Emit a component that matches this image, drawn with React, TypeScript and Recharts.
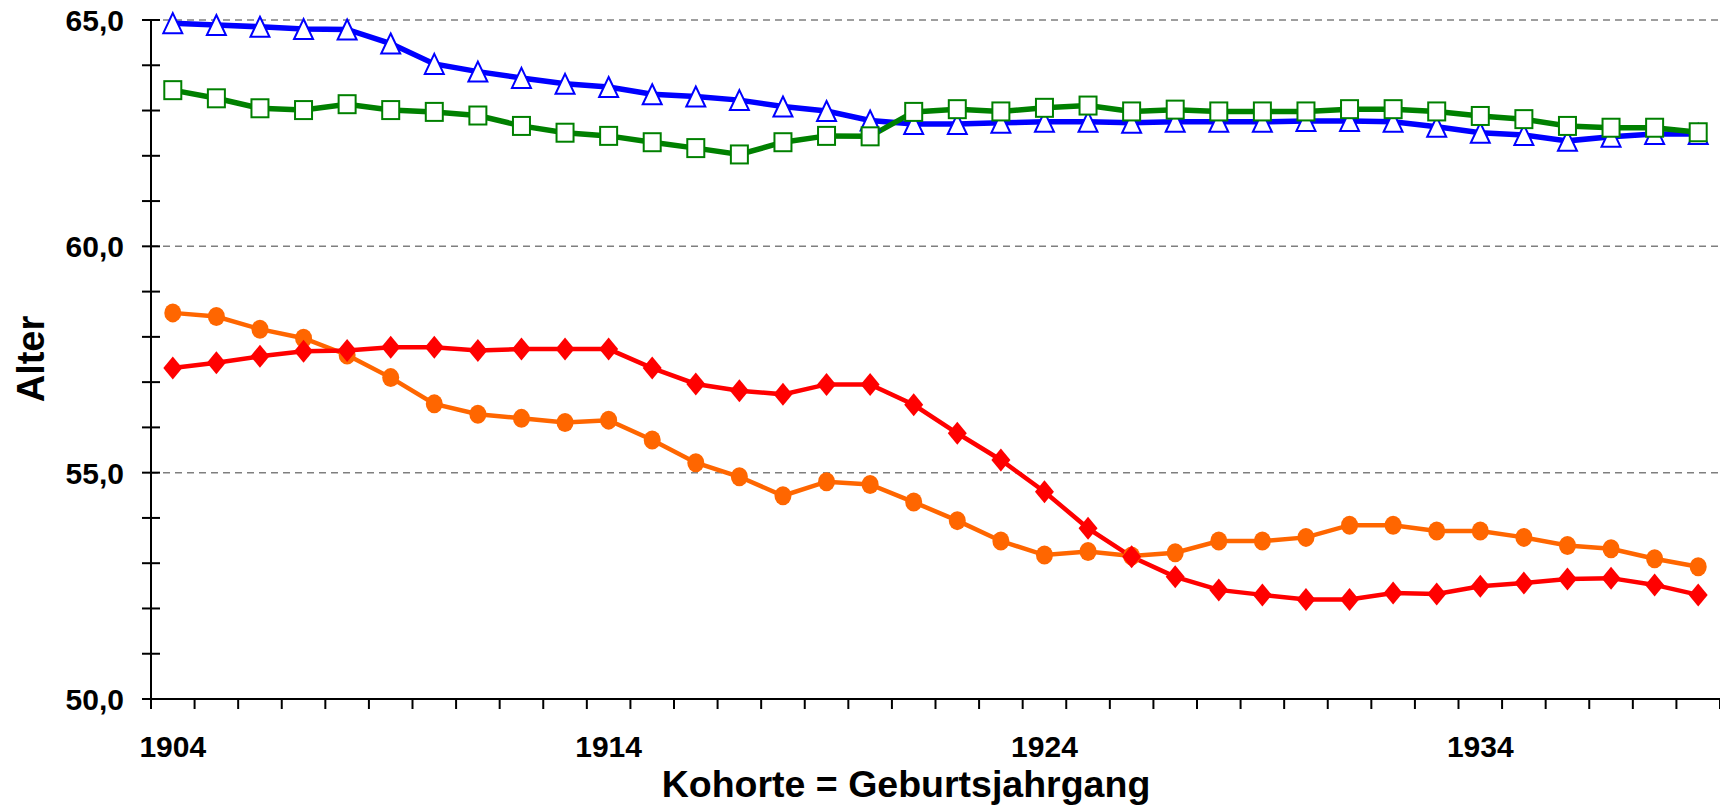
import React from 'react';
import { LineChart, Line, XAxis, YAxis, ReferenceLine } from 'recharts';

const years = [
  1904, 1905, 1906, 1907, 1908, 1909, 1910, 1911, 1912, 1913,
  1914, 1915, 1916, 1917, 1918, 1919, 1920, 1921, 1922, 1923,
  1924, 1925, 1926, 1927, 1928, 1929, 1930, 1931, 1932, 1933,
  1934, 1935, 1936, 1937, 1938, 1939,
];

const blueTriangle = [
  64.93, 64.89, 64.85, 64.8, 64.79, 64.48, 64.03, 63.86, 63.72, 63.59,
  63.52, 63.36, 63.31, 63.23, 63.09, 62.99, 62.78, 62.7, 62.7, 62.73,
  62.75, 62.75, 62.73, 62.75, 62.75, 62.75, 62.77, 62.77, 62.75, 62.64,
  62.51, 62.46, 62.33, 62.42, 62.48, 62.48,
];

const greenSquare = [
  63.45, 63.27, 63.05, 63.01, 63.14, 63.01, 62.97, 62.89, 62.66, 62.51,
  62.44, 62.3, 62.17, 62.03, 62.3, 62.44, 62.43, 62.97, 63.03, 62.98,
  63.06, 63.11, 62.98, 63.02, 62.98, 62.98, 62.98, 63.03, 63.03, 62.98,
  62.88, 62.81, 62.66, 62.62, 62.62, 62.52,
];

const orangeCircle = [
  58.53, 58.45, 58.17, 57.97, 57.6, 57.1, 56.52, 56.29, 56.2, 56.11,
  56.16, 55.72, 55.22, 54.91, 54.49, 54.8, 54.74, 54.35, 53.94, 53.49,
  53.18, 53.26, 53.16, 53.23, 53.49, 53.49, 53.57, 53.84, 53.84, 53.71,
  53.71, 53.57, 53.39, 53.32, 53.1, 52.92,
];

const redDiamond = [
  57.31, 57.43, 57.57, 57.68, 57.7, 57.77, 57.77, 57.7, 57.73, 57.73,
  57.73, 57.31, 56.96, 56.81, 56.73, 56.95, 56.95, 56.5, 55.87, 55.28,
  54.58, 53.77, 53.14, 52.7, 52.41, 52.3, 52.2, 52.2, 52.34, 52.32,
  52.49, 52.56, 52.65, 52.67, 52.52, 52.3,
];

const xLabelYears = [1904, 1914, 1924, 1934];
const yTickValues = [50, 51, 52, 53, 54, 55, 56, 57, 58, 59, 60, 61, 62, 63, 64, 65];
const gridValues = [55, 60, 65];
const yDomain = [50, 65];
const xTitle = 'Kohorte = Geburtsjahrgang';
const yTitle = 'Alter';

const data = years.map((year, i) => ({
  year,
  triangle: blueTriangle[i],
  square: greenSquare[i],
  circle: orangeCircle[i],
  diamond: redDiamond[i],
}));

const boundaries = [...years.map((y) => y - 0.5), years[years.length - 1] + 0.5];
const xTicks = [...boundaries, ...xLabelYears].sort((a, b) => a - b);
const xDomain = [boundaries[0], boundaries[boundaries.length - 1]];

const FONT = '"Liberation Sans", Arial, Helvetica, sans-serif';

const XTick = (props: any) => {
  const { x, y, payload } = props;
  const v = payload.value;
  if (Number.isInteger(v)) {
    return (
      <text x={x} y={y + 58} textAnchor="middle" fontFamily={FONT} fontWeight="bold" fontSize={30} fill="#000">
        {v}
      </text>
    );
  }
  return <line x1={x} y1={y} x2={x} y2={y + 10} stroke="#000" strokeWidth={2} />;
};

const YTick = (props: any) => {
  const { x, y, payload } = props;
  const v = payload.value;
  return (
    <g>
      <line x1={x - 9} y1={y} x2={x + 9} y2={y} stroke="#000" strokeWidth={2} />
      {v % 5 === 0 && (
        <text x={x - 27} y={y + 11} textAnchor="end" fontFamily={FONT} fontWeight="bold" fontSize={30} fill="#000">
          {v.toFixed(1).replace('.', ',')}
        </text>
      )}
    </g>
  );
};

const TriangleDot = (props: any) => {
  const { cx, cy, index } = props;
  if (cx == null || cy == null) return <g key={index} />;
  return (
    <path
      key={index}
      d={`M${cx},${cy - 10} L${cx + 9.5},${cy + 10} L${cx - 9.5},${cy + 10} Z`}
      fill="#fff"
      stroke="#0000FF"
      strokeWidth={2}
      strokeLinejoin="miter"
    />
  );
};

const SquareDot = (props: any) => {
  const { cx, cy, index } = props;
  if (cx == null || cy == null) return <g key={index} />;
  return <rect key={index} x={cx - 8.5} y={cy - 9} width={17} height={18} fill="#fff" stroke="#008000" strokeWidth={2} />;
};

const CircleDot = (props: any) => {
  const { cx, cy, index } = props;
  if (cx == null || cy == null) return <g key={index} />;
  return <ellipse key={index} cx={cx} cy={cy} rx={8.5} ry={9.5} fill="#FF6600" stroke="none" />;
};

const DiamondDot = (props: any) => {
  const { cx, cy, index } = props;
  if (cx == null || cy == null) return <g key={index} />;
  return (
    <path
      key={index}
      d={`M${cx},${cy - 11.5} L${cx + 9.5},${cy} L${cx},${cy + 11.5} L${cx - 9.5},${cy} Z`}
      fill="#FF0000"
      stroke="none"
    />
  );
};

export default function App() {
  return (
    <div style={{ position: 'absolute', left: 0, top: 0, width: 1720, height: 807, background: '#fff' }}>
      <LineChart
        width={1720}
        height={807}
        data={data}
        margin={{ top: 20, right: 0, left: 0, bottom: 0 }}
        style={{ position: 'absolute', left: 0, top: 0 }}
      >
        <XAxis
          dataKey="year"
          type="number"
          domain={xDomain}
          ticks={xTicks}
          interval={0}
          tickSize={0}
          tickMargin={0}
          tickLine={false}
          tick={<XTick />}
          height={108}
          axisLine={{ stroke: '#000', strokeWidth: 2 }}
        />
        <YAxis
          type="number"
          domain={yDomain}
          ticks={yTickValues}
          interval={0}
          tickSize={0}
          tickMargin={0}
          tickLine={false}
          tick={<YTick />}
          width={151}
          axisLine={{ stroke: '#000', strokeWidth: 2 }}
        />
        {gridValues.map((v) => (
          <ReferenceLine key={v} y={v} stroke="#7f7f7f" strokeWidth={1.5} strokeDasharray="7 5" />
        ))}
        <Line
          dataKey="circle"
          stroke="#FF6600"
          strokeWidth={4.5}
          dot={<CircleDot />}
          activeDot={false}
          isAnimationActive={false}
          type="linear"
        />
        <Line
          dataKey="diamond"
          stroke="#FF0000"
          strokeWidth={4.5}
          dot={<DiamondDot />}
          activeDot={false}
          isAnimationActive={false}
          type="linear"
        />
        <Line
          dataKey="triangle"
          stroke="#0000FF"
          strokeWidth={5.5}
          dot={<TriangleDot />}
          activeDot={false}
          isAnimationActive={false}
          type="linear"
        />
        <Line
          dataKey="square"
          stroke="#008000"
          strokeWidth={5.5}
          dot={<SquareDot />}
          activeDot={false}
          isAnimationActive={false}
          type="linear"
        />
      </LineChart>
      <svg
        width={1720}
        height={807}
        style={{ position: 'absolute', left: 0, top: 0, pointerEvents: 'none' }}
      >
        <text x={906} y={797} textAnchor="middle" fontFamily={FONT} fontWeight="bold" fontSize={37.5} fill="#000">
          {xTitle}
        </text>
        <text
          x={44}
          y={359}
          textAnchor="middle"
          fontFamily={FONT}
          fontWeight="bold"
          fontSize={38}
          fill="#000"
          transform="rotate(-90, 44, 359)"
        >
          {yTitle}
        </text>
      </svg>
    </div>
  );
}
